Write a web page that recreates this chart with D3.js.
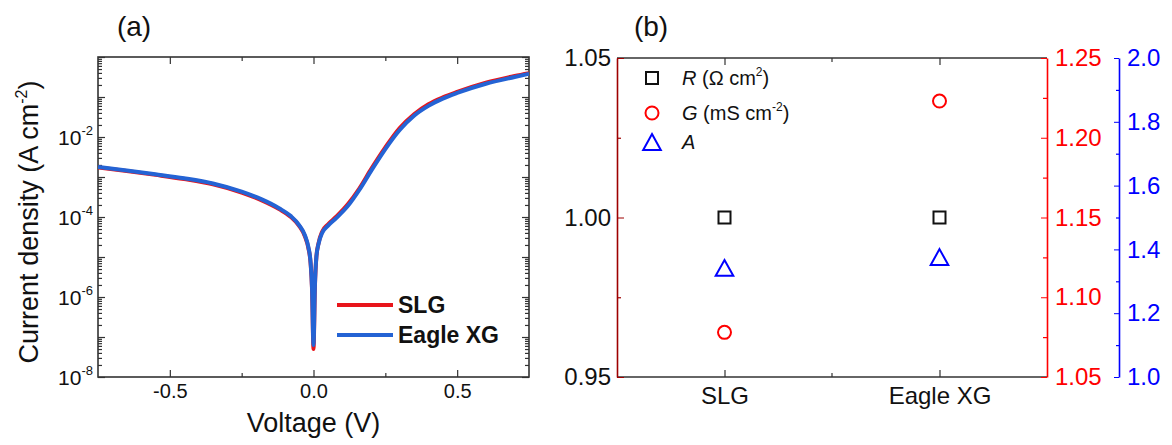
<!DOCTYPE html>
<html>
<head>
<meta charset="utf-8">
<script src="https://cdn.jsdelivr.net/npm/d3@7"></script>
<style>
  body { margin: 0; background: #fff; }
  text { font-family: "Liberation Sans", Arial, sans-serif; }
</style>
</head>
<body>
<div id="chart"></div>
<script>
// panel (a): J-V curves
var voltage = [-0.75, -0.65, -0.55, -0.45, -0.35, -0.25, -0.18, -0.12, -0.08, -0.05, -0.03, -0.018, -0.01, -0.005, 0,
  0.005, 0.01, 0.018, 0.03, 0.05, 0.08, 0.12, 0.16, 0.2, 0.25, 0.3, 0.35, 0.4, 0.45, 0.5, 0.6, 0.7, 0.75];
var jSLG = [1.74e-3, 1.41e-3, 1.13e-3, 8.9e-4, 6.6e-4, 4.1e-4, 2.6e-4, 1.58e-4, 1.02e-4, 6.0e-5, 3.3e-5, 1.7e-5, 6.8e-6, 1.5e-6, 5.0e-8,
  1.9e-6, 1.0e-5, 2.3e-5, 4.3e-5, 6.5e-5, 1.03e-4, 2.1e-4, 5.2e-4, 1.55e-3, 5.5e-3, 1.67e-2, 3.7e-2, 6.6e-2, 9.8e-2, 0.134, 0.228, 0.335, 0.395];
var jEagle = [1.78e-3, 1.45e-3, 1.17e-3, 9.3e-4, 6.9e-4, 4.3e-4, 2.75e-4, 1.66e-4, 1.07e-4, 6.3e-5, 3.5e-5, 1.8e-5, 7.1e-6, 1.6e-6, 6.3e-8,
  2.0e-6, 1.0e-5, 2.2e-5, 4.0e-5, 6.0e-5, 9.5e-5, 1.9e-4, 4.8e-4, 1.4e-3, 5.0e-3, 1.5e-2, 3.4e-2, 6.0e-2, 9.1e-2, 0.126, 0.214, 0.316, 0.38];
var seriesA = [
  {name: "SLG", values: jSLG, color: "#e8151b"},
  {name: "Eagle XG", values: jEagle, color: "#2463d4"}
];
var xTicksA = [-0.5, 0, 0.5];
var xMinorA = [-0.25, 0.25];

// panel (b): fitted parameters
var categories = ["SLG", "Eagle XG"];
var rValues = [1.0, 1.0];
var gValues = [1.078, 1.223];
var aValues = [1.342, 1.376];

var svg = d3.select("#chart").append("svg")
    .attr("width", 1172)
    .attr("height", 445);
svg.append("rect").attr("width", 1172).attr("height", 445).attr("fill", "#fff");

var axisColor = "#333";

function styleAxis(g, color) {
    g.select(".domain").remove();
    g.selectAll(".tick line").attr("stroke", color || axisColor).attr("stroke-width", 1.2);
}

// ---------------- panel (a) ----------------
var a = {left: 98, right: 529, top: 57, bottom: 377};
var xA = d3.scaleLinear().domain([-0.75, 0.75]).range([a.left, a.right]);
var yA = d3.scaleLog().domain([1e-8, 1]).range([a.bottom, a.top]);

var decades = d3.range(-8, 1).map(function(k) { return Math.pow(10, k); });
var minorDecades = [];
d3.range(-8, 0).forEach(function(k) {
    d3.range(2, 10).forEach(function(m) { minorDecades.push(m * Math.pow(10, k)); });
});

// x axes (bottom with labels, top mirrored)
var bx = svg.append("g").attr("transform", "translate(0," + a.bottom + ")")
    .call(d3.axisBottom(xA).tickValues(xTicksA).tickSizeInner(-7).tickSizeOuter(0)
        .tickFormat(function(d) { return d.toFixed(1); }));
styleAxis(bx);
bx.selectAll("text").attr("font-size", 20).attr("fill", "#111").attr("y", 7).attr("dy", "0.71em");
styleAxis(svg.append("g").attr("transform", "translate(0," + a.bottom + ")")
    .call(d3.axisBottom(xA).tickValues(xMinorA).tickSizeInner(-4).tickSizeOuter(0).tickFormat("")));
styleAxis(svg.append("g").attr("transform", "translate(0," + a.top + ")")
    .call(d3.axisTop(xA).tickValues(xTicksA).tickSizeInner(-7).tickSizeOuter(0).tickFormat("")));
styleAxis(svg.append("g").attr("transform", "translate(0," + a.top + ")")
    .call(d3.axisTop(xA).tickValues(xMinorA).tickSizeInner(-4).tickSizeOuter(0).tickFormat("")));

// y axes (left with labels, right mirrored)
var ly = svg.append("g").attr("transform", "translate(" + a.left + ",0)")
    .call(d3.axisLeft(yA).tickValues(decades).tickSizeInner(-7).tickSizeOuter(0).tickFormat(""));
styleAxis(ly);
styleAxis(svg.append("g").attr("transform", "translate(" + a.left + ",0)")
    .call(d3.axisLeft(yA).tickValues(minorDecades).tickSizeInner(-4).tickSizeOuter(0).tickFormat("")));
styleAxis(svg.append("g").attr("transform", "translate(" + a.right + ",0)")
    .call(d3.axisRight(yA).tickValues(decades).tickSizeInner(-7).tickSizeOuter(0).tickFormat("")));
styleAxis(svg.append("g").attr("transform", "translate(" + a.right + ",0)")
    .call(d3.axisRight(yA).tickValues(minorDecades).tickSizeInner(-4).tickSizeOuter(0).tickFormat("")));

// decade labels 10^-2 ... 10^-8
decades.filter(function(d) { return Math.round(Math.log10(d)) % 2 === 0 && d < 1; }).forEach(function(d) {
    var t = svg.append("text")
        .attr("x", a.left - 5)
        .attr("y", yA(d) + 8)
        .attr("text-anchor", "end")
        .attr("font-size", 21)
        .attr("fill", "#111");
    t.append("tspan").text("10");
    t.append("tspan").attr("dy", -10).attr("font-size", 13).text(Math.round(Math.log10(d)));
});

// frame
svg.append("rect")
    .attr("x", a.left).attr("y", a.top)
    .attr("width", a.right - a.left).attr("height", a.bottom - a.top)
    .attr("fill", "none").attr("stroke", axisColor).attr("stroke-width", 1.6);

svg.append("clipPath").attr("id", "clipA").append("rect")
    .attr("x", a.left).attr("y", a.top)
    .attr("width", a.right - a.left).attr("height", a.bottom - a.top);

var lineA = d3.line()
    .x(function(d, i) { return xA(voltage[i]); })
    .y(function(d) { return yA(d); })
    .curve(d3.curveMonotoneX);

svg.append("g").attr("clip-path", "url(#clipA)")
    .selectAll("path")
    .data(seriesA)
    .join("path")
    .attr("fill", "none")
    .attr("stroke", function(d) { return d.color; })
    .attr("stroke-width", 4)
    .attr("stroke-linejoin", "round")
    .attr("d", function(d) { return lineA(d.values); });

// legend (a)
var legA = svg.append("g").selectAll("g").data(seriesA).join("g")
    .attr("transform", function(d, i) { return "translate(337," + (305 + i * 30) + ")"; });
legA.append("line").attr("x1", 0).attr("x2", 56)
    .attr("stroke", function(d) { return d.color; }).attr("stroke-width", 4);
legA.append("text").attr("x", 61).attr("dy", "0.36em")
    .attr("font-size", 23).attr("font-weight", "bold").attr("fill", "#111")
    .text(function(d) { return d.name; });

// titles (a)
svg.append("text").attr("x", (a.left + a.right) / 2).attr("y", 432)
    .attr("text-anchor", "middle").attr("font-size", 27).attr("fill", "#111")
    .text("Voltage (V)");

var yTitle = svg.append("text")
    .attr("transform", "translate(38," + ((a.top + a.bottom) / 2 + 5) + ") rotate(-90)")
    .attr("text-anchor", "middle").attr("font-size", 27).attr("fill", "#111");
yTitle.append("tspan").text("Current density (A cm");
yTitle.append("tspan").attr("dy", -11).attr("font-size", 16).text("-2");
yTitle.append("tspan").attr("dy", 11).text(")");

svg.append("text").attr("x", 134).attr("y", 36).attr("text-anchor", "middle")
    .attr("font-size", 28).attr("fill", "#111").text("(a)");

// ---------------- panel (b) ----------------
var b = {left: 617, right: 1047, top: 58, bottom: 377, blue: 1119};
var xB = d3.scalePoint().domain(categories).range([b.left, b.right]).padding(0.5);
var yR = d3.scaleLinear().domain([0.95, 1.05]).range([b.bottom, b.top]);
var yG = d3.scaleLinear().domain([1.05, 1.25]).range([b.bottom, b.top]);
var yAy = d3.scaleLinear().domain([1.0, 2.0]).range([b.bottom, b.top]);

var leftRed = "#9e0000";
var red = "#ff0000";
var blue = "#0000ff";

// top and bottom frame lines
svg.append("line").attr("x1", b.left).attr("x2", b.right).attr("y1", b.top).attr("y2", b.top)
    .attr("stroke", axisColor).attr("stroke-width", 1.6);
svg.append("line").attr("x1", b.left).attr("x2", b.right).attr("y1", b.bottom).attr("y2", b.bottom)
    .attr("stroke", axisColor).attr("stroke-width", 1.6);

var bxB = svg.append("g").attr("transform", "translate(0," + b.bottom + ")")
    .call(d3.axisBottom(xB).tickSizeInner(-7).tickSizeOuter(0));
styleAxis(bxB);
bxB.selectAll("text").attr("font-size", 24).attr("fill", "#111").attr("y", 10).attr("dy", "0.71em");
styleAxis(svg.append("g").attr("transform", "translate(0," + b.top + ")")
    .call(d3.axisTop(xB).tickSizeInner(-7).tickSizeOuter(0).tickFormat("")));
var midX = [(b.left + b.right) / 2];
svg.append("g").selectAll("line").data(midX).join("line")
    .attr("x1", function(d) { return d; }).attr("x2", function(d) { return d; })
    .attr("y1", b.bottom).attr("y2", b.bottom - 4).attr("stroke", axisColor).attr("stroke-width", 1.2);
svg.append("g").selectAll("line").data(midX).join("line")
    .attr("x1", function(d) { return d; }).attr("x2", function(d) { return d; })
    .attr("y1", b.top).attr("y2", b.top + 4).attr("stroke", axisColor).attr("stroke-width", 1.2);

// left axis R
var lyB = svg.append("g").attr("transform", "translate(" + b.left + ",0)")
    .call(d3.axisLeft(yR).tickValues([0.95, 1.0, 1.05]).tickSizeInner(-7).tickSizeOuter(0)
        .tickFormat(d3.format(".2f")));
lyB.select(".domain").attr("stroke", leftRed).attr("stroke-width", 1.6);
lyB.selectAll(".tick line").attr("stroke", leftRed);
lyB.selectAll("text").attr("font-size", 24).attr("fill", "#111").attr("x", -6);
var lyBm = svg.append("g").attr("transform", "translate(" + b.left + ",0)")
    .call(d3.axisLeft(yR).tickValues([0.975, 1.025]).tickSizeInner(-4).tickSizeOuter(0).tickFormat(""));
styleAxis(lyBm, leftRed);

// right axis G (red)
var ryG = svg.append("g").attr("transform", "translate(" + b.right + ",0)")
    .call(d3.axisRight(yG).tickValues([1.05, 1.1, 1.15, 1.2, 1.25]).tickSizeInner(-6).tickSizeOuter(0)
        .tickFormat(d3.format(".2f")));
ryG.select(".domain").attr("stroke", red).attr("stroke-width", 1.6);
ryG.selectAll(".tick line").attr("stroke", red);
ryG.selectAll("text").attr("font-size", 24).attr("fill", red).attr("x", 8);
styleAxis(svg.append("g").attr("transform", "translate(" + b.right + ",0)")
    .call(d3.axisRight(yG).tickValues([1.075, 1.125, 1.175, 1.225]).tickSizeInner(-4).tickSizeOuter(0).tickFormat("")), red);

// far right axis A (blue)
var ryA = svg.append("g").attr("transform", "translate(" + b.blue + ",0)")
    .call(d3.axisLeft(yAy).tickValues([1.0, 1.2, 1.4, 1.6, 1.8, 2.0]).tickSizeInner(5).tickSizeOuter(0)
        .tickFormat(d3.format(".1f")));
ryA.select(".domain").attr("stroke", blue).attr("stroke-width", 1.6);
ryA.selectAll(".tick line").attr("stroke", blue);
ryA.selectAll("text").attr("font-size", 24).attr("fill", blue).attr("text-anchor", "start").attr("x", 8);
styleAxis(svg.append("g").attr("transform", "translate(" + b.blue + ",0)")
    .call(d3.axisLeft(yAy).tickValues([1.1, 1.3, 1.5, 1.7, 1.9]).tickSizeInner(3).tickSizeOuter(0).tickFormat("")), blue);

// markers: upward triangle centred on its bounding box
var triUp = {
    draw: function(ctx, size) {
        var w = Math.sqrt(size), h = w * 0.9;
        ctx.moveTo(0, -h / 2);
        ctx.lineTo(w / 2, h / 2);
        ctx.lineTo(-w / 2, h / 2);
        ctx.closePath();
    }
};

svg.append("g").selectAll("rect").data(rValues).join("rect")
    .attr("x", function(d, i) { return xB(categories[i]) - 6; })
    .attr("y", function(d) { return yR(d) - 6; })
    .attr("width", 12).attr("height", 12)
    .attr("fill", "none").attr("stroke", "#111").attr("stroke-width", 2);

svg.append("g").selectAll("circle").data(gValues).join("circle")
    .attr("cx", function(d, i) { return xB(categories[i]); })
    .attr("cy", function(d) { return yG(d); })
    .attr("r", 6.5)
    .attr("fill", "none").attr("stroke", red).attr("stroke-width", 2);

svg.append("g").selectAll("path").data(aValues).join("path")
    .attr("transform", function(d, i) { return "translate(" + xB(categories[i]) + "," + yAy(d) + ")"; })
    .attr("d", d3.symbol().type(triUp).size(310))
    .attr("fill", "none").attr("stroke", blue).attr("stroke-width", 2);

// legend (b)
var legB = svg.append("g");
legB.append("rect").attr("x", 646).attr("y", 72).attr("width", 12).attr("height", 12)
    .attr("fill", "none").attr("stroke", "#111").attr("stroke-width", 2);
legB.append("circle").attr("cx", 652).attr("cy", 113).attr("r", 6.5)
    .attr("fill", "none").attr("stroke", red).attr("stroke-width", 2);
legB.append("path").attr("transform", "translate(652,142)")
    .attr("d", d3.symbol().type(triUp).size(310))
    .attr("fill", "none").attr("stroke", blue).attr("stroke-width", 2);

var tR = legB.append("text").attr("x", 682).attr("y", 85).attr("font-size", 20).attr("fill", "#111");
tR.append("tspan").attr("font-style", "italic").text("R");
tR.append("tspan").text(" (\u03A9 cm");
tR.append("tspan").attr("dy", -9).attr("font-size", 12).text("2");
tR.append("tspan").attr("dy", 9).text(")");

var tG = legB.append("text").attr("x", 682).attr("y", 120).attr("font-size", 20).attr("fill", "#111");
tG.append("tspan").attr("font-style", "italic").text("G");
tG.append("tspan").text(" (mS cm");
tG.append("tspan").attr("dy", -9).attr("font-size", 12).text("-2");
tG.append("tspan").attr("dy", 9).text(")");

legB.append("text").attr("x", 682).attr("y", 149).attr("font-size", 20).attr("fill", "#111")
    .attr("font-style", "italic").text("A");

svg.append("text").attr("x", 651).attr("y", 36).attr("text-anchor", "middle")
    .attr("font-size", 28).attr("fill", "#111").text("(b)");
</script>
</body>
</html>
